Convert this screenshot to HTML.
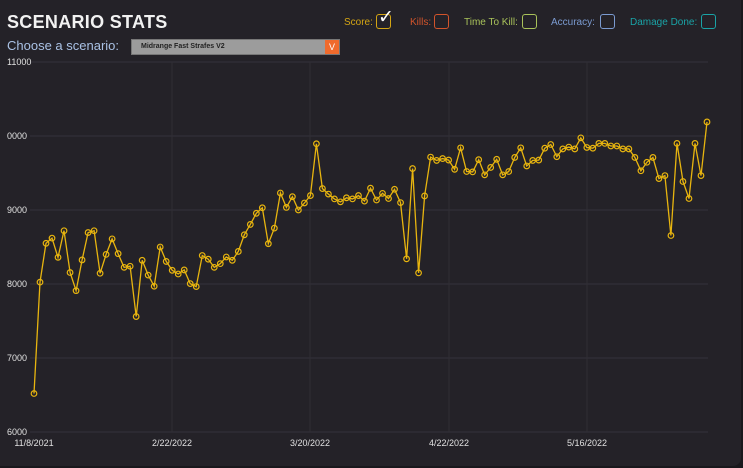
<!DOCTYPE html>
<html><head><meta charset="utf-8"><style>
html,body{margin:0;padding:0;background:#19181c;}
#panel{position:absolute;left:0;top:0;width:741px;height:466px;background:#242228;border-radius:0 0 8px 0;overflow:hidden;font-family:"Liberation Sans",sans-serif;}
#title{position:absolute;left:7px;top:12px;font-size:18px;font-weight:bold;color:#f2f2f2;letter-spacing:0.3px;}
#choose{position:absolute;left:7px;top:38px;font-size:13px;color:#a9c1e4;}
#select{position:absolute;left:131px;top:39px;width:207px;height:14px;background:#9c9c9c;border:1px solid #777;}
#select span{position:absolute;left:9px;top:3px;font-size:7px;font-weight:bold;color:#222;}
#arrow{position:absolute;right:0;top:0;width:14px;height:14px;background:#f06a2c;color:#fff;font-size:9px;text-align:center;line-height:14px;}
.leg{position:absolute;top:17px;font-size:10px;}
.box{position:absolute;top:14px;width:13px;height:13px;border:1.5px solid;border-radius:3px;}
svg{position:absolute;left:0;top:0;}
</style></head><body>
<div id="panel">
<div id="title">SCENARIO STATS</div>
<div id="choose">Choose a scenario:</div>
<div id="select"><span>Midrange Fast Strafes V2</span><div id="arrow">V</div></div>
<div class="leg" style="left:344px;color:#d4a514">Score:</div>
<div class="box" style="left:376px;border-color:#d4a514"><span style="position:absolute;left:1px;top:-9px;color:#fff;font-size:19px">✓</span></div>
<div class="leg" style="left:410px;color:#d2542b">Kills:</div>
<div class="box" style="left:434px;border-color:#d2542b"></div>
<div class="leg" style="left:464px;color:#a9c25a">Time To Kill:</div>
<div class="box" style="left:522px;border-color:#a9c25a"></div>
<div class="leg" style="left:551px;color:#7b9bd1">Accuracy:</div>
<div class="box" style="left:600px;border-color:#7b9bd1"></div>
<div class="leg" style="left:630px;color:#1aa3a6">Damage Done:</div>
<div class="box" style="left:701px;border-color:#1aa3a6"></div>
<svg id="chart" width="743" height="468"></svg>
</div>
<script>
const yTicks=[6000,7000,8000,9000,10000,11000];
const yTickLabels=["6000","7000","8000","9000","0000","11000"];
const xTickLabels=["11/8/2021","2/22/2022","3/20/2022","4/22/2022","5/16/2022"];
const scores=[6520,8025,8550,8620,8360,8720,8155,7910,8325,8695,8720,8145,8400,8610,8410,8225,8240,7560,8320,8120,7970,8500,8305,8185,8135,8190,8005,7965,8385,8335,8225,8275,8365,8320,8440,8665,8805,8955,9030,8545,8755,9230,9035,9180,9000,9095,9195,9895,9290,9215,9150,9110,9165,9150,9195,9120,9295,9135,9225,9155,9280,9100,8340,9560,8150,9190,9715,9670,9695,9675,9550,9840,9520,9515,9680,9475,9575,9685,9475,9520,9710,9840,9595,9670,9675,9835,9885,9720,9825,9850,9825,9975,9845,9835,9900,9900,9865,9865,9825,9825,9710,9530,9645,9710,9425,9465,8655,9900,9385,9155,9900,9465,10190];
const NS="http://www.w3.org/2000/svg";
const svg=document.getElementById('chart');
const x0=34,x1=707,left=30,right=708;
function xs(i){return x0+(x1-x0)*i/(scores.length-1);}
function ys(v){return 432-(v-6000)*74/1000;}
function mk(t,a){const e=document.createElementNS(NS,t);for(const k in a)e.setAttribute(k,a[k]);svg.appendChild(e);return e;}
yTicks.forEach((v,i)=>{
 const l=mk('line',{x1:left,x2:right,y1:ys(v),y2:ys(v),stroke:'#35333b','stroke-width':1});
 
 
 const t=mk('text',{x:7,y:ys(v)+3,fill:'#e0e0e0','font-size':9,'font-family':'Liberation Sans, sans-serif'});
 t.textContent=yTickLabels[i];
 
 
});
const gx=[34,172,310,449,587];
xTickLabels.forEach((s,i)=>{
 if(i>0){const l=mk('line',{x1:gx[i],x2:gx[i],y1:62,y2:432,stroke:'#302e35','stroke-width':1});
 
 }
 const t=mk('text',{x:gx[i],y:446,fill:'#e0e0e0','font-size':9,'text-anchor':'middle','font-family':'Liberation Sans, sans-serif'});
 t.textContent=s;
 
 
});
let d=scores.map((v,i)=>(i?'L':'M')+xs(i).toFixed(1)+' '+ys(v).toFixed(1)).join(' ');
const p=mk('path',{d:d,fill:'none',stroke:'#e8b50f','stroke-width':1.3});


scores.forEach((v,i)=>{
 const c=mk('circle',{cx:xs(i),cy:ys(v),r:2.8,fill:'none',stroke:'#e8b50f','stroke-width':1.2});
 
 
});
</script>
</body></html>
